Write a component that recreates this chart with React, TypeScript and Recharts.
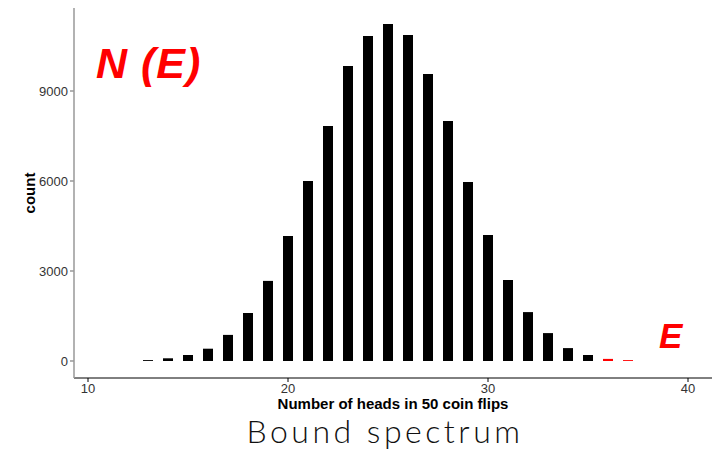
import React from 'react';
import { BarChart, Bar, XAxis, YAxis, Cell, Label } from 'recharts';

// number of heads in 50 flips, and how often each came up
const heads = [13, 14, 15, 16, 17, 18, 19, 20, 21, 22, 23, 24, 25, 26, 27, 28, 29, 30, 31, 32, 33, 34, 35, 36, 37];
const counts = [30, 90, 200, 410, 870, 1600, 2670, 4170, 6000, 7830, 9830, 10830, 11230, 10870, 9570, 8000, 5970, 4200, 2700, 1630, 930, 430, 200, 70, 30];
const xTicks = [10, 20, 30, 40];
const yTicks = [0, 3000, 6000, 9000];
const boundFrom = 36; // bars at or above this are the bound states

const data = heads.map((h, i) => ({ heads: h, count: counts[i] }));

const font = '"Liberation Sans", Arial, sans-serif';

const App: React.FC = () => {
  return (
    <div style={{ position: 'absolute', left: 0, top: 0, width: 714, height: 452, background: '#fff', overflow: 'hidden' }}>
      <BarChart width={714} height={452} data={data} margin={{ top: 8, right: 2, bottom: 34, left: 0 }}>
        <XAxis
          dataKey="heads"
          type="number"
          domain={[9.3, 41.2]}
          ticks={xTicks}
          allowDataOverflow
          height={40}
          stroke="#000"
          tickSize={4}
          tick={{ fill: '#333', fontSize: 13, fontFamily: font }}
        >
          <Label
            value="Number of heads in 50 coin flips"
            position="insideBottom"
            offset={9}
            style={{ fill: '#000', fontSize: 15, fontWeight: 700, fontFamily: font }}
          />
        </XAxis>
        <YAxis
          type="number"
          domain={[-567, 11767]}
          ticks={yTicks}
          allowDataOverflow
          width={74}
          stroke="#999"
          strokeWidth={1.5}
          tickSize={4}
          tick={{ fill: '#333', fontSize: 13, fontFamily: font }}
        >
          <Label
            value="count"
            angle={-90}
            position="insideLeft"
            offset={30}
            style={{ fill: '#000', fontSize: 15, fontWeight: 700, fontFamily: font, textAnchor: 'middle' }}
          />
        </YAxis>
        <Bar dataKey="count" barSize={10} isAnimationActive={false}>
          {data.map((d) => (
            <Cell key={d.heads} fill={d.heads >= boundFrom ? '#ff0000' : '#000'} />
          ))}
        </Bar>
      </BarChart>
      <div
        style={{
          position: 'absolute', left: 96, top: 42, color: '#ff0000', fontFamily: font,
          fontSize: 43, fontWeight: 700, fontStyle: 'italic', lineHeight: 1, letterSpacing: 1,
        }}
      >
        N (E)
      </div>
      <div
        style={{
          position: 'absolute', left: 659, top: 318, color: '#ff0000', fontFamily: font,
          fontSize: 35, fontWeight: 700, fontStyle: 'italic', lineHeight: 1,
        }}
      >
        E
      </div>
      <div
        style={{
          position: 'absolute', left: 0, width: 714, paddingLeft: 56, boxSizing: 'border-box', top: 412,
          textAlign: 'center', fontFamily: 'Lato, "Open Sans", sans-serif', fontWeight: 300,
          fontSize: 32, color: '#111', lineHeight: 1.2, letterSpacing: 3.5,
        }}
      >
        Bound spectrum
      </div>
    </div>
  );
};

export default App;
